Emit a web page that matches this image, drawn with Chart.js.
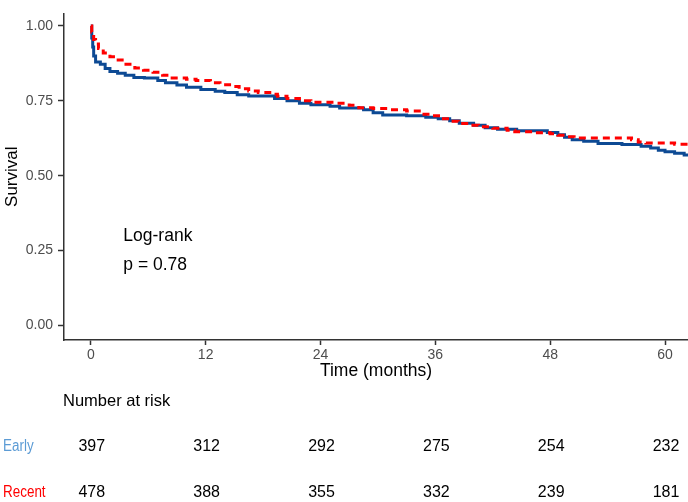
<!DOCTYPE html>
<html>
<head>
<meta charset="utf-8">
<script src="https://cdn.jsdelivr.net/npm/chart.js@4.4.1/dist/chart.umd.min.js"></script>
<style>
  html, body { margin: 0; padding: 0; background: #ffffff; }
  #wrap { width: 688px; height: 502px; }
</style>
</head>
<body>
<div id="wrap"><canvas id="c" width="688" height="502"></canvas></div>
<script>
// ---- Data ----
const earlyTimes = [0, 0.1, 0.2, 0.3, 0.5, 1.0, 1.5, 2.0, 2.8, 3.6, 4.5, 5.6, 7.0, 7.8, 9.0, 10.0, 11.5, 13.0, 14.0, 15.3, 16.5, 19.2, 20.5, 21.8, 23.0, 25.0, 26.0, 28.5, 29.5, 30.5, 33.0, 35.0, 36.3, 37.5, 38.5, 40.0, 41.2, 42.5, 44.5, 47.7, 48.8, 49.5, 50.3, 51.5, 53.0, 55.5, 57.5, 58.5, 59.3, 60.0, 61.0, 62.0, 62.4];
const earlySurv  = [1.0, 0.96, 0.93, 0.90, 0.88, 0.872, 0.858, 0.848, 0.842, 0.835, 0.828, 0.826, 0.818, 0.81, 0.803, 0.795, 0.788, 0.782, 0.778, 0.770, 0.766, 0.758, 0.750, 0.742, 0.737, 0.732, 0.726, 0.720, 0.710, 0.703, 0.700, 0.695, 0.690, 0.683, 0.675, 0.668, 0.660, 0.655, 0.650, 0.644, 0.637, 0.628, 0.620, 0.615, 0.607, 0.604, 0.598, 0.592, 0.585, 0.580, 0.575, 0.569, 0.567];

const recentTimes = [0, 0.1, 0.3, 0.5, 0.8, 1.3, 2.0, 2.6, 3.5, 4.6, 5.5, 6.5, 7.5, 8.5, 10.0, 11.0, 12.5, 13.5, 14.5, 15.5, 16.5, 17.5, 18.7, 19.5, 20.5, 21.8, 23.0, 25.5, 27.0, 28.0, 29.5, 31.0, 33.0, 34.5, 35.5, 36.6, 37.5, 38.4, 39.5, 40.5, 42.0, 43.5, 44.3, 46.5, 48.0, 48.8, 49.6, 50.5, 56.5, 57.2, 58.0, 61.0, 62.4];
const recentSurv  = [1.0, 0.98, 0.955, 0.94, 0.925, 0.91, 0.897, 0.886, 0.872, 0.860, 0.852, 0.845, 0.835, 0.826, 0.822, 0.818, 0.810, 0.804, 0.798, 0.790, 0.783, 0.778, 0.772, 0.765, 0.758, 0.750, 0.745, 0.742, 0.735, 0.727, 0.724, 0.720, 0.716, 0.705, 0.700, 0.690, 0.682, 0.674, 0.668, 0.663, 0.658, 0.652, 0.647, 0.643, 0.640, 0.635, 0.630, 0.626, 0.620, 0.612, 0.609, 0.605, 0.603];

const xTicks = [0, 12, 24, 36, 48, 60];
const yTicks = [0, 0.25, 0.5, 0.75, 1.0];

const riskTimes   = [0, 12, 24, 36, 48, 60];
const riskEarly   = [397, 312, 292, 275, 254, 232];
const riskRecent  = [478, 388, 355, 332, 239, 181];
const groupLabels = ['Early', 'Recent'];

const annotLines = ['Log-rank', 'p = 0.78'];

// ---- Chart ----
const FONT = "'Liberation Sans', Arial, Helvetica, sans-serif";
Chart.defaults.font.family = FONT;

const toXY = (ts, ss) => ts.map((t, i) => ({ x: t, y: ss[i] }));

const extras = {
  id: 'extras',
  afterDraw(chart) {
    const ctx = chart.ctx;
    const xs = chart.scales.x, ys = chart.scales.y;
    ctx.save();
    // annotation
    ctx.fillStyle = '#000000';
    ctx.font = '17.5px ' + FONT;
    ctx.textAlign = 'left';
    ctx.textBaseline = 'middle';
    ctx.fillText(annotLines[0], xs.getPixelForValue(3.4), ys.getPixelForValue(0.299));
    ctx.fillText(annotLines[1], xs.getPixelForValue(3.4), ys.getPixelForValue(0.202));

    // number at risk table
    ctx.font = '16.5px ' + FONT;
    ctx.fillText('Number at risk', chart.chartArea.left - 1, 401);

    const rows = [
      { label: groupLabels[0], color: '#5b9bd5', vals: riskEarly, y: 447 },
      { label: groupLabels[1], color: '#ff0000', vals: riskRecent, y: 493 }
    ];
    rows.forEach(r => {
      // condensed group label
      ctx.save();
      ctx.translate(3, r.y);
      ctx.scale(0.84, 1);
      ctx.font = '16px ' + FONT;
      ctx.fillStyle = r.color;
      ctx.textAlign = 'left';
      ctx.fillText(r.label, 0, 0);
      ctx.restore();

      ctx.font = '16px ' + FONT;
      ctx.fillStyle = '#000000';
      ctx.textAlign = 'center';
      r.vals.forEach((v, i) => {
        ctx.fillText(String(v), xs.getPixelForValue(riskTimes[i]) + 1, r.y);
      });
    });
    ctx.restore();
  }
};

new Chart(document.getElementById('c'), {
  type: 'line',
  data: {
    datasets: [
      {
        label: 'Recent',
        data: toXY(recentTimes, recentSurv),
        borderColor: '#ff0000',
        borderWidth: 3,
        borderDash: [7, 5],
        stepped: 'before',
        pointRadius: 0,
        fill: false
      },
      {
        label: 'Early',
        data: toXY(earlyTimes, earlySurv),
        borderColor: '#0d4a94',
        borderWidth: 3,
        stepped: 'before',
        pointRadius: 0,
        fill: false
      }
    ]
  },
  options: {
    responsive: false,
    animation: false,
    devicePixelRatio: 1,
    layout: { padding: { left: 0, right: 0, top: 5, bottom: 117 } },
    plugins: { legend: { display: false }, tooltip: { enabled: false } },
    scales: {
      x: {
        type: 'linear',
        min: -2.8,
        max: 62.4,
        afterBuildTicks: s => { s.ticks = xTicks.map(v => ({ value: v })); },
        afterFit: s => { s.height = 45; },
        grid: { drawOnChartArea: false, drawTicks: true, tickLength: 5, tickColor: '#333333', tickWidth: 1.5 },
        border: { display: true, color: '#333333', width: 1.5 },
        ticks: { color: '#4d4d4d', font: { size: 14 }, padding: 2, maxRotation: 0, autoSkip: false },
        title: { display: true, text: 'Time (months)', color: '#000000', font: { size: 17.5 }, padding: { top: 0, bottom: 3 } }
      },
      y: {
        type: 'linear',
        min: -0.049,
        max: 1.042,
        afterBuildTicks: s => { s.ticks = yTicks.map(v => ({ value: v })); },
        afterFit: s => { s.width = 64; },
        grid: { drawOnChartArea: false, drawTicks: true, tickLength: 6, tickColor: '#333333', tickWidth: 1.5 },
        border: { display: true, color: '#333333', width: 1.5 },
        ticks: { color: '#4d4d4d', font: { size: 14 }, padding: 5, callback: v => Number(v).toFixed(2) },
        title: { display: true, text: 'Survival', color: '#000000', font: { size: 17 }, padding: { top: 2, bottom: 0 } }
      }
    }
  },
  plugins: [extras]
});
</script>
</body>
</html>
